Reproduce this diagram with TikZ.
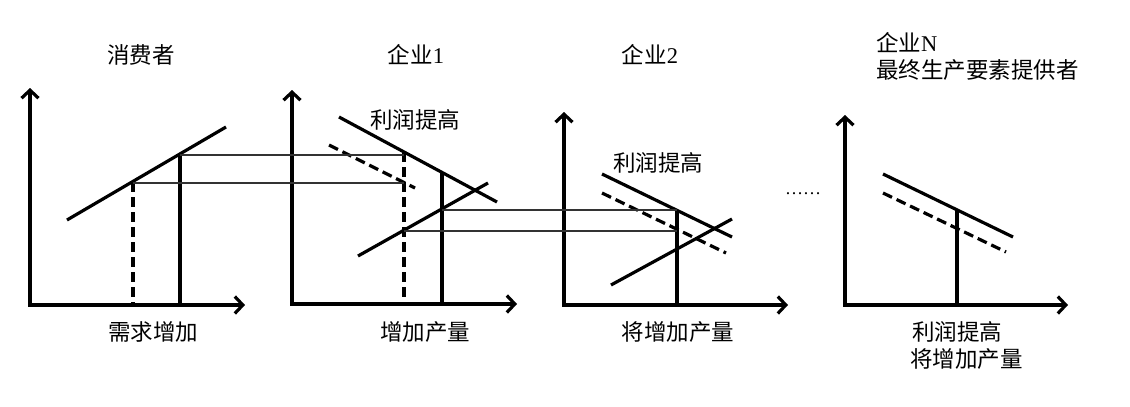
\documentclass[tikz,border=0pt]{standalone}
\usepackage{fontspec}
\setmainfont{Liberation Serif}
\newfontfamily\cjk{Noto Sans CJK SC}
\usetikzlibrary{arrows.meta}
\tikzset{
  axis/.style={line width=3.2pt, line join=miter,
    {Straight Barb[length=8pt,width=17pt]}-{Straight Barb[length=8pt,width=17pt]}},
  curve/.style={line width=3.2pt},
  dcurve/.style={line width=3.2pt, dash pattern=on 10pt off 5pt},
  guide/.style={line width=1.2pt, draw=black!80},
  lbl/.style={font=\fontsize{22.5}{26}\selectfont, inner sep=0pt},
}
\begin{document}
\begin{tikzpicture}[x=1pt,y=-1pt]
\useasboundingbox[fill=white] (0,0) rectangle (1130,407);

% ---------- panel 1: consumer ----------
\coordinate (t1) at (30,88);
\coordinate (o1) at (30,305);
\coordinate (r1) at (245,305);
\draw[axis] (t1) -- (o1) -- (r1);
\coordinate (s1a) at (67,220);
\coordinate (s1b) at (226,127);
\draw[curve] (s1a) -- (s1b);
\coordinate (d1top) at (133,182);
\coordinate (d1bot) at (133,305);
\draw[dcurve] (d1top) -- (d1bot);
\coordinate (v1top) at (180,154);
\coordinate (v1bot) at (180,305);
\draw[curve] (v1top) -- (v1bot);
\node[lbl] (title1) at (141,55) {\cjk 消费者};
\node[lbl] (x1) at (153,332) {\cjk 需求增加};

% ---------- panel 2: firm 1 ----------
\coordinate (t2) at (292,90);
\coordinate (o2) at (292,304);
\coordinate (r2) at (517,304);
\draw[axis] (t2) -- (o2) -- (r2);
\coordinate (p2a) at (339,117);
\coordinate (p2b) at (497,202);
\draw[curve] (p2a) -- (p2b);
\coordinate (q2a) at (329,145);
\coordinate (q2b) at (415,188);
\draw[dcurve] (q2a) -- (q2b);
\coordinate (u2a) at (358,256);
\coordinate (u2b) at (488,183);
\draw[curve] (u2a) -- (u2b);
\coordinate (d2top) at (404,152);
\coordinate (d2bot) at (404,304);
\draw[dcurve] (d2top) -- (d2bot);
\coordinate (v2top) at (442,173);
\coordinate (v2bot) at (442,304);
\draw[curve] (v2top) -- (v2bot);
\node[lbl] (title2) at (416,55) {{\cjk 企业}1};
\node[lbl] (prof2) at (415,120) {\cjk 利润提高};
\node[lbl] (x2) at (425,332) {\cjk 增加产量};

% guides panel 1 -> panel 2
\coordinate (g1a) at (180,155);
\coordinate (g1b) at (404,155);
\coordinate (g2a) at (133,183);
\coordinate (g2b) at (404,183);
\draw[guide] (g1a) -- (g1b);
\draw[guide] (g2a) -- (g2b);

% ---------- panel 3: firm 2 ----------
\coordinate (t3) at (564,112);
\coordinate (o3) at (564,305);
\coordinate (r3) at (788,305);
\draw[axis] (t3) -- (o3) -- (r3);
\coordinate (p3a) at (602,174);
\coordinate (p3b) at (732,237);
\draw[curve] (p3a) -- (p3b);
\coordinate (q3a) at (602,193);
\coordinate (q3b) at (726,253);
\draw[dcurve] (q3a) -- (q3b);
\coordinate (u3a) at (611,285);
\coordinate (u3b) at (732,219);
\draw[curve] (u3a) -- (u3b);
\coordinate (v3top) at (677,210);
\coordinate (v3bot) at (677,305);
\draw[curve] (v3top) -- (v3bot);
\node[lbl] (title3) at (650,55) {{\cjk 企业}2};
\node[lbl] (prof3) at (658,163) {\cjk 利润提高};
\node[lbl] (x3) at (678,332) {\cjk 将增加产量};

% guides panel 2 -> panel 3
\coordinate (g3a) at (442,210);
\coordinate (g3b) at (677,210);
\coordinate (g4a) at (404,231);
\coordinate (g4b) at (677,231);
\draw[guide] (g3a) -- (g3b);
\draw[guide] (g4a) -- (g4b);

% ellipsis
\node[font=\fontsize{18}{20}\selectfont, inner sep=0pt, anchor=base] (dots) at (803,194) {……};

% ---------- panel 4: firm N ----------
\coordinate (t4) at (845,115);
\coordinate (o4) at (845,305);
\coordinate (r4) at (1068,305);
\draw[axis] (t4) -- (o4) -- (r4);
\coordinate (p4a) at (883,174);
\coordinate (p4b) at (1013,237);
\draw[curve] (p4a) -- (p4b);
\coordinate (q4a) at (883,193);
\coordinate (q4b) at (1006,252);
\draw[dcurve] (q4a) -- (q4b);
\coordinate (v4top) at (957,210);
\coordinate (v4bot) at (957,305);
\draw[curve] (v4top) -- (v4bot);
\node[lbl, anchor=west] (title4a) at (876,43) {{\cjk 企业}N};
\node[lbl, anchor=west] (title4b) at (876,70) {\cjk 最终生产要素提供者};
\node[lbl, anchor=west] (prof4) at (912,332) {\cjk 利润提高};
\node[lbl, anchor=west] (x4) at (910,359) {\cjk 将增加产量};
\end{tikzpicture}
\end{document}
